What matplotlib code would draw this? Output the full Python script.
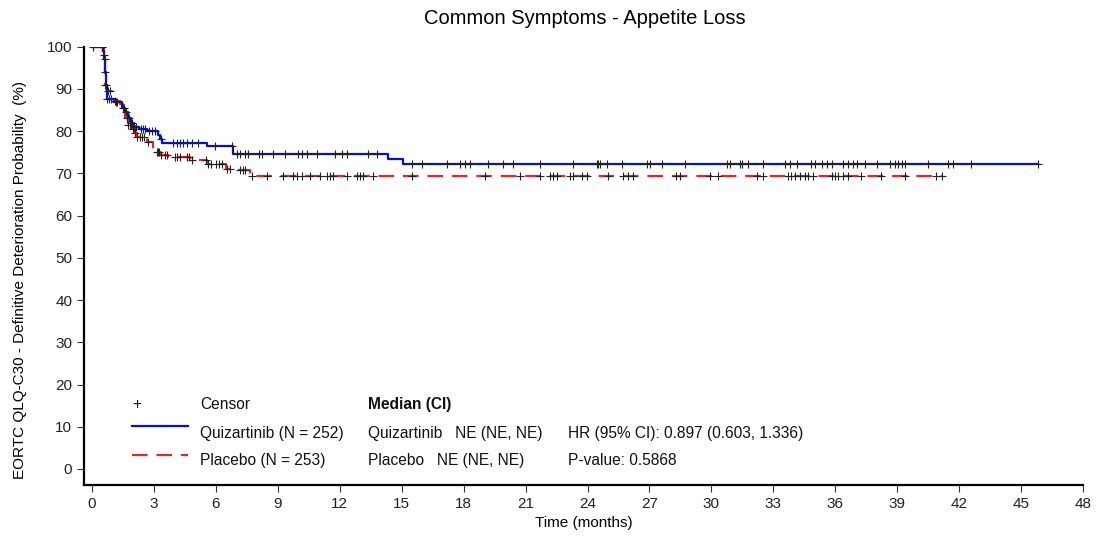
import numpy as np
import matplotlib
matplotlib.use("Agg")
import matplotlib.pyplot as plt

plt.rcParams['font.family'] = ['Liberation Sans', 'DejaVu Sans']

# ---------------- data ----------------
title = "Common Symptoms - Appetite Loss"
xlabel = "Time (months)"
ylabel = "EORTC QLQ-C30 - Definitive Deterioration Probability  (%)"
xticks = list(range(0, 49, 3))
yticks = list(range(0, 101, 10))

# Quizartinib step curve (event times, survival % after event)
quiz_t = [0.0, 0.55, 0.60, 0.63, 0.66, 0.70, 1.10, 1.45, 1.60, 1.75, 1.90, 2.05, 2.25,
          2.65, 3.20, 3.30, 3.40, 5.55, 6.85, 14.35, 15.05]
quiz_s = [100.0, 99.0, 97.0, 94.0, 91.0, 87.5, 86.8, 85.5, 84.5, 83.0, 82.0, 81.0, 80.5,
          80.0, 79.0, 78.2, 77.1, 76.5, 74.7, 73.5, 72.3]
quiz_end = 45.83
quiz_cens = [0.05, 0.5, 0.62, 0.64, 0.68, 0.72, 0.8, 0.9, 1.15, 1.2, 1.5, 1.55, 1.65, 1.8,
             1.95, 2.05, 2.15, 2.35, 2.45, 2.55, 2.75, 2.9, 3.05, 3.35, 3.94, 4.10, 4.26,
             4.42, 4.59, 4.83, 5.15, 5.96, 6.76, 7.01, 7.17, 7.41, 7.57, 8.10, 8.22, 8.78,
             9.35, 9.99, 10.16, 10.40, 10.88, 11.77, 12.09, 12.33, 13.38, 13.79, 15.48,
             15.97, 17.18, 17.82, 18.06, 18.31, 19.19, 19.92, 20.40, 21.69, 23.31, 24.44,
             24.52, 24.60, 24.92, 25.65, 26.86, 27.02, 27.59, 28.72, 30.74, 30.90, 31.38,
             31.46, 31.78, 32.51, 33.56, 33.80, 34.13, 34.85, 35.01, 35.34, 35.58, 35.82,
             36.38, 36.63, 36.87, 37.03, 37.43, 38.00, 38.64, 38.88, 39.04, 39.21, 39.37,
             40.50, 41.47, 41.71, 42.60, 45.83]

# Placebo step curve
plac_t = [0.0, 0.58, 0.62, 0.65, 0.70, 0.95, 1.05, 1.36, 1.50, 1.60, 1.75, 1.95, 2.10,
          2.20, 2.65, 2.95, 3.05, 3.30, 3.70, 4.75, 5.55, 6.50, 7.00, 7.65]
plac_s = [100.0, 98.0, 94.0, 91.0, 89.5, 88.0, 87.2, 86.5, 84.5, 83.0, 81.5, 80.5, 79.5,
          78.7, 77.5, 75.5, 75.0, 74.4, 73.8, 73.2, 72.3, 71.0, 70.7, 69.4]
plac_end = 41.15
plac_cens = [0.5, 0.6, 0.65, 0.75, 0.85, 1.1, 1.7, 1.75, 1.85, 1.9, 2.0, 2.1, 2.2, 2.3,
             2.4, 2.5, 2.7, 3.15, 3.2, 3.25, 3.35, 3.55, 3.65, 4.0, 4.1, 4.25, 4.6, 4.7,
             4.85, 5.5, 5.6, 5.75, 6.0, 6.15, 6.3, 6.55, 6.7, 7.17, 7.3, 7.41, 7.73, 8.46,
             9.27, 9.75, 9.91, 10.16, 10.56, 11.04, 11.37, 11.53, 11.69, 12.33, 12.82,
             12.98, 13.14, 13.62, 15.48, 19.03, 20.73, 21.69, 22.18, 22.34, 22.50, 23.15,
             23.31, 23.71, 23.96, 25.00, 25.73, 25.97, 26.21, 28.31, 28.48, 29.93, 30.33,
             32.19, 32.51, 33.72, 33.88, 34.04, 34.29, 34.53, 34.69, 34.93, 35.82, 35.98,
             36.14, 36.38, 36.63, 37.27, 38.24, 39.37, 40.90, 41.15]

legend_censor = "Censor"
legend_labels = ["Quizartinib (N = 252)", "Placebo (N = 253)"]
median_header = "Median (CI)"
median_texts = ["Quizartinib   NE (NE, NE)", "Placebo   NE (NE, NE)"]
stat_texts = ["HR (95% CI): 0.897 (0.603, 1.336)", "P-value: 0.5868"]

# ---------------- plot ----------------
BLUE = '#0010e0'
RED = '#e8262a'
CENS = '#222222'
FS = 11.2

fig = plt.figure(figsize=(10.97, 5.36), dpi=100)
ax = fig.add_axes([0.0766, 0.0951, 0.9106, 0.8178])


def step_value(t_arr, s_arr, x):
    idx = np.searchsorted(np.asarray(t_arr), np.asarray(x), side='right') - 1
    return np.asarray(s_arr)[idx]


qt = list(quiz_t) + [quiz_end]
qs = list(quiz_s) + [quiz_s[-1]]
pt = list(plac_t) + [plac_end]
ps = list(plac_s) + [plac_s[-1]]

ax.step(pt, ps, where='post', color=RED, lw=1.6, dashes=(7, 4), zorder=3)
ax.step(qt, qs, where='post', color=BLUE, lw=1.6, zorder=4)

ax.plot(quiz_cens, step_value(quiz_t, quiz_s, quiz_cens), ls='none', marker='+',
        ms=6, mew=0.8, color=CENS, zorder=5)
ax.plot(plac_cens, step_value(plac_t, plac_s, plac_cens), ls='none', marker='+',
        ms=6, mew=0.8, color=CENS, zorder=5)

ax.set_xlim(-0.39, 48)
ax.set_ylim(-3.8, 100)
ax.set_xticks(xticks)
ax.set_yticks(yticks)
ax.tick_params(labelsize=11, length=5, width=0.8, colors='#333333', labelcolor='#222222')
for side in ['top', 'right']:
    ax.spines[side].set_visible(False)
for side in ['left', 'bottom']:
    ax.spines[side].set_linewidth(1.6)
ax.set_xlabel(xlabel, fontsize=11, labelpad=4)
ax.set_ylabel(ylabel, fontsize=11)
ax.yaxis.set_label_coords(-0.057, 0.468)
fig.text(0.5335, 0.965, title, ha='center', va='center', fontsize=14.5)

# legend / annotation block (axes coordinates)
def ax_xy(px, py):
    # convert figure pixel to axes fraction
    fx = (px - 84) / (1083 - 84)
    fy = (485 - py) / (485 - 46.7)
    return fx, fy

tkw = dict(transform=ax.transAxes, fontsize=FS, va='center', ha='left', color='#111111')
x_sym, x_lab, x_med, x_stat = 132, 200, 368, 568
# Censor row
fx, fy = ax_xy(137, 404)
ax.text(fx, fy, '+', ha='center', va='center', transform=ax.transAxes, fontsize=FS, color='#111111')
ax.text(*ax_xy(x_lab, 404), legend_censor, **tkw)
ax.text(*ax_xy(x_med, 404), median_header, fontweight='bold', **tkw)
# Quizartinib row
x0, y0 = ax_xy(x_sym, 426)
x1, _ = ax_xy(188, 426)
ax.plot([x0, x1], [y0, y0], transform=ax.transAxes, color=BLUE, lw=1.6, clip_on=False)
ax.text(*ax_xy(x_lab, 433), legend_labels[0], **tkw)
ax.text(*ax_xy(x_med, 433), median_texts[0], **tkw)
ax.text(*ax_xy(x_stat, 433), stat_texts[0], **tkw)
# Placebo row
x0, y0 = ax_xy(x_sym, 455)
ax.plot([x0, x1], [y0, y0], transform=ax.transAxes, color=RED, lw=1.6, dashes=(7, 4), clip_on=False)
ax.text(*ax_xy(x_lab, 460), legend_labels[1], **tkw)
ax.text(*ax_xy(x_med, 460), median_texts[1], **tkw)
ax.text(*ax_xy(x_stat, 460), stat_texts[1], **tkw)

fig.savefig('out.png', dpi=100)
